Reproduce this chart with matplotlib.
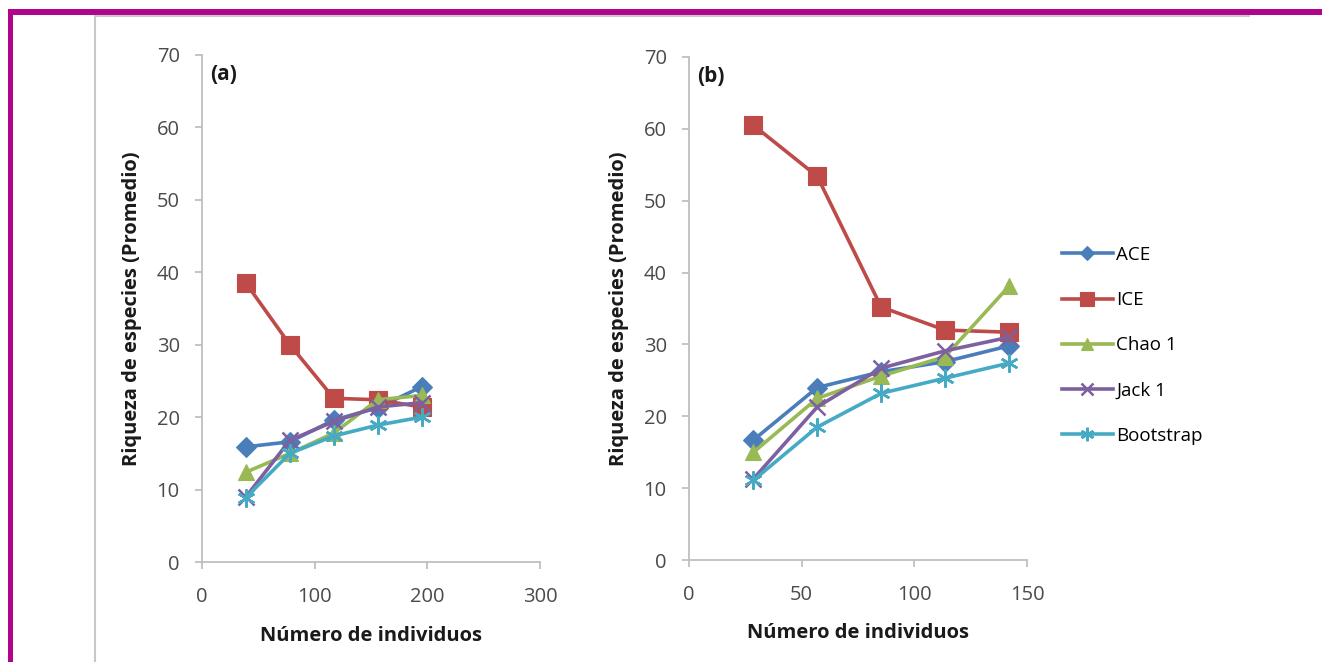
import matplotlib
matplotlib.use("Agg")
import matplotlib.pyplot as plt
from matplotlib.lines import Line2D
from matplotlib.patches import Rectangle

plt.rcParams['font.family'] = ['Open Sans', 'DejaVu Sans']

series_names = ["ACE", "ICE", "Chao 1", "Jack 1", "Bootstrap"]

# panel (a)
x_a = [39, 78, 117, 156, 195]
ace_a = [15.9, 16.6, 19.6, 21.3, 24.2]
ice_a = [38.5, 30.0, 22.6, 22.4, 21.4]
chao_a = [12.4, 15.0, 17.8, 22.4, 23.0]
jack_a = [9.0, 16.8, 19.4, 21.4, 22.0]
boot_a = [8.9, 15.0, 17.4, 18.9, 20.0]

# panel (b)
x_b = [28.6, 56.9, 85.3, 113.6, 142]
ace_b = [16.7, 24.0, 26.2, 27.6, 29.8]
ice_b = [60.5, 53.4, 35.2, 32.0, 31.7]
chao_b = [15.0, 22.5, 25.6, 28.3, 38.1]
jack_b = [11.3, 21.3, 26.7, 29.1, 31.0]
boot_b = [11.1, 18.5, 23.2, 25.3, 27.4]

colores = ["#4A7EBB", "#BE4B48", "#98B954", "#7D60A0", "#46AAC5"]
marcadores = ["D", "s", "^", "x", (6, 2, 0)]
tamanos = [10, 13, 12, 11, 13]

fig = plt.figure(figsize=(13.22, 6.62), dpi=100)

# marco magenta y gris
fig.add_artist(Rectangle((8 / 1322, 0), 5 / 1322, 1 - 9 / 662, transform=fig.transFigure,
                         color="#B0048C", lw=0))
fig.add_artist(Rectangle((8 / 1322, 1 - 15 / 662), 1, 6 / 662, transform=fig.transFigure,
                         color="#B0048C", lw=0))
fig.add_artist(Line2D([95 / 1322, 1249 / 1322], [1 - 16 / 662, 1 - 16 / 662],
                      transform=fig.transFigure, color="#C8C8C8", lw=1.5))
fig.add_artist(Line2D([95 / 1322, 95 / 1322], [0, 1 - 16 / 662],
                      transform=fig.transFigure, color="#C8C8C8", lw=1.5))

ax_a = fig.add_axes([202 / 1322, 1 - 562 / 662, 338 / 1322, 507 / 662])
ax_b = fig.add_axes([689 / 1322, 1 - 560 / 662, 338 / 1322, 503 / 662])

datos = [
    (ax_a, x_a, [ace_a, ice_a, chao_a, jack_a, boot_a], "(a)", 300, [0, 100, 200, 300]),
    (ax_b, x_b, [ace_b, ice_b, chao_b, jack_b, boot_b], "(b)", 150, [0, 50, 100, 150]),
]

for ax, xs, ys, etiqueta, xmax, xticks in datos:
    for nombre, y, c, m, ms in zip(series_names, ys, colores, marcadores, tamanos):
        ax.plot(xs, y, color=c, lw=2.6, marker=m, markersize=ms,
                markeredgewidth=1.8 if m in ("x",) or isinstance(m, tuple) else 0.8,
                markeredgecolor=c, label=nombre, clip_on=False)
    ax.set_xlim(0, xmax)
    ax.set_ylim(0, 70)
    ax.set_xticks(xticks)
    ax.set_yticks(range(0, 71, 10))
    for s in ("top", "right"):
        ax.spines[s].set_visible(False)
    for s in ("left", "bottom"):
        ax.spines[s].set_color("#BFBFBF")
        ax.spines[s].set_linewidth(1.3)
    ax.tick_params(axis="both", colors="#BFBFBF", labelcolor="#4a4a4a", labelsize=14.5,
                   length=5, width=1.3)
    ax.tick_params(axis="y", pad=11)
    ax.tick_params(axis="x", pad=13)
    ax.set_xlabel("Número de individuos", fontsize=14.5, fontweight="bold", color="#1a1a1a")
    ax.set_ylabel("Riqueza de especies (Promedio)", fontsize=14.5, fontweight="bold",
                  color="#1a1a1a")
    ax.xaxis.set_label_coords(0.5, -0.126)
    ax.yaxis.set_label_coords(-0.178, 0.5)
    ax.text(0.025, 0.982, etiqueta, transform=ax.transAxes, fontsize=15, fontweight="bold",
            color="#1a1a1a", va="top", ha="left")

handles, labels = ax_b.get_legend_handles_labels()
fig.legend(handles, labels, loc="upper left", bbox_to_anchor=(1045 / 1322, 1 - 229 / 662),
           frameon=False, fontsize=13.5, handlelength=2.7, labelspacing=1.45,
           handletextpad=0.2, markerscale=0.75)

fig.savefig("out.png", dpi=100)
